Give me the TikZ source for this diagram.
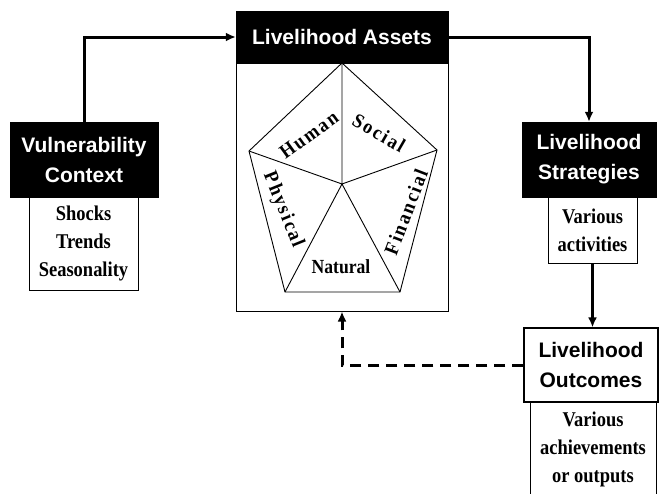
\documentclass[tikz,border=0pt]{standalone}
\usepackage{fontspec}
\setmainfont{Liberation Serif}[FakeStretch=0.88]
\newfontfamily\headfont{Liberation Sans}
\newfontfamily\facetfont{Liberation Serif}[FakeStretch=0.92, LetterSpace=10]
\usetikzlibrary{arrows.meta, positioning}

\tikzset{
  head/.style={draw=black, fill=black, text=white, align=center, inner sep=0pt,
    font=\headfont\bfseries\fontsize{21}{30}\selectfont},
  sub/.style={draw=black, line width=1pt, fill=white, align=center, inner sep=0pt,
    font=\bfseries\fontsize{21}{28}\selectfont},
  facet/.style={font=\facetfont\bfseries\fontsize{20}{20}\selectfont, inner sep=0pt},
  flow/.style={line width=3pt, -{Latex[length=10pt, width=9pt]}},
  back/.style={flow, dash pattern=on 11pt off 7pt}
}

\begin{document}
\begin{tikzpicture}[x=1pt, y=-1pt]
    \useasboundingbox (0, 0) rectangle (659, 493);

    % main boxes
    \node[sub, minimum width=212, minimum height=248] (assetsbox) at (342, 187) {};
    \node[head, minimum width=212, minimum height=52] (assetshead) at (342, 37) {Livelihood Assets};

    \node[head, minimum width=148, minimum height=75] (vulnhead) at (84, 159.5) {Vulnerability\\Context};
    \node[sub, minimum width=109, minimum height=93] (vulnbox) at (83.5, 243.5) {Shocks\\Trends\\Seasonality};

    \node[head, minimum width=134, minimum height=75] (strathead) at (589, 159.5) {Livelihood\\Strategies};
    \node[sub, minimum width=89, minimum height=66] (stratbox) at (592.5, 230) {Various\\activities};

    \node[sub, minimum width=126, minimum height=100, text depth=10pt] (outbox) at (593, 452) {Various\\achievements\\or outputs};
    \node[head, fill=white, text=black, line width=1.2pt, minimum width=134, minimum height=74] (outhead) at (591, 365) {Livelihood\\Outcomes};

    % asset pentagon
    \coordinate (ptop) at (342, 63);
    \coordinate (pright) at (437, 150);
    \coordinate (pbr) at (400, 292);
    \coordinate (pbl) at (285, 292);
    \coordinate (pleft) at (249, 151);
    \coordinate (pmid) at (342, 184);
    \draw[line width=0.9pt] (ptop) -- (pright) -- (pbr) -- (pbl) -- (pleft) -- cycle;
    \draw[line width=0.9pt] (pmid) -- (ptop) (pmid) -- (pright) (pmid) -- (pbr) (pmid) -- (pbl) (pmid) -- (pleft);

    \node[facet, rotate=36] (human) at (309, 135) {Human};
    \node[facet, rotate=-30] (social) at (379, 133) {Social};
    \node[facet, rotate=69] (financial) at (406, 212) {Financial};
    \node[facet, rotate=-68] (physical) at (283, 210) {Physical};
    \node[font=\bfseries\fontsize{20}{20}\selectfont, inner sep=0pt] (natural) at (341, 267) {Natural};

    % connectors
    \draw[flow] (vulnhead.north) |- (assetshead.west);
    \draw[flow] (assetshead.east) -| (strathead.north);
    \draw[flow] (stratbox.south) -- (stratbox.south |- outhead.north);
    \draw[back] (outhead.west) -| (assetsbox.south);
\end{tikzpicture}
\end{document}
